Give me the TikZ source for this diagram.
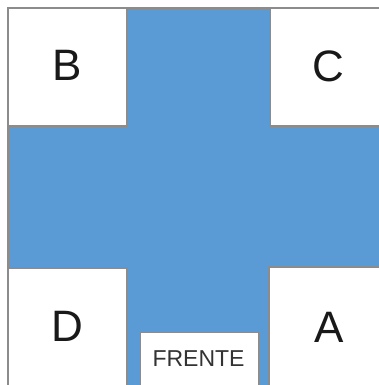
\documentclass[tikz,border=0pt]{standalone}
\usepackage{fontspec}
\setmainfont{Liberation Sans}
\definecolor{crossblue}{HTML}{5B9BD5}
\definecolor{edgegray}{HTML}{8C8C8C}
\begin{document}
\begin{tikzpicture}[x=1pt,y=1pt,
  corner/.style={fill=white,draw=edgegray,line width=1.2pt},
  biglabel/.style={font=\fontsize{44}{44}\selectfont,text=black!90},
  frontbox/.style={fill=white,draw=edgegray,line width=1pt},
  frontlabel/.style={font=\fontsize{23}{23}\selectfont,text=black!80}]
\useasboundingbox (0,0) rectangle (379,385);
% blue field
\fill[crossblue] (8,0) rectangle (379,377);
\draw[edgegray,line width=1.2pt] (8,0) -- (8,377) -- (379,377);
% corner squares
\draw[corner] (8,377) rectangle (127,259);
\draw[corner] (270,377) rectangle (390,259);
\draw[corner] (8,117) rectangle (127,-5);
\draw[corner] (269,118) rectangle (390,-5);
\draw[frontbox] (140,52) rectangle (258,-5);
\useasboundingbox (0,0) rectangle (379,385);
% labels
\node[biglabel] (b) at (67.5,320) {B};
\node[biglabel] (c) at (328,319) {C};
\node[biglabel] (d) at (67.5,59) {D};
\node[biglabel] (a) at (329,58) {A};
\node[frontlabel] (f) at (198.5,26) {FRENTE};
\end{tikzpicture}
\end{document}
